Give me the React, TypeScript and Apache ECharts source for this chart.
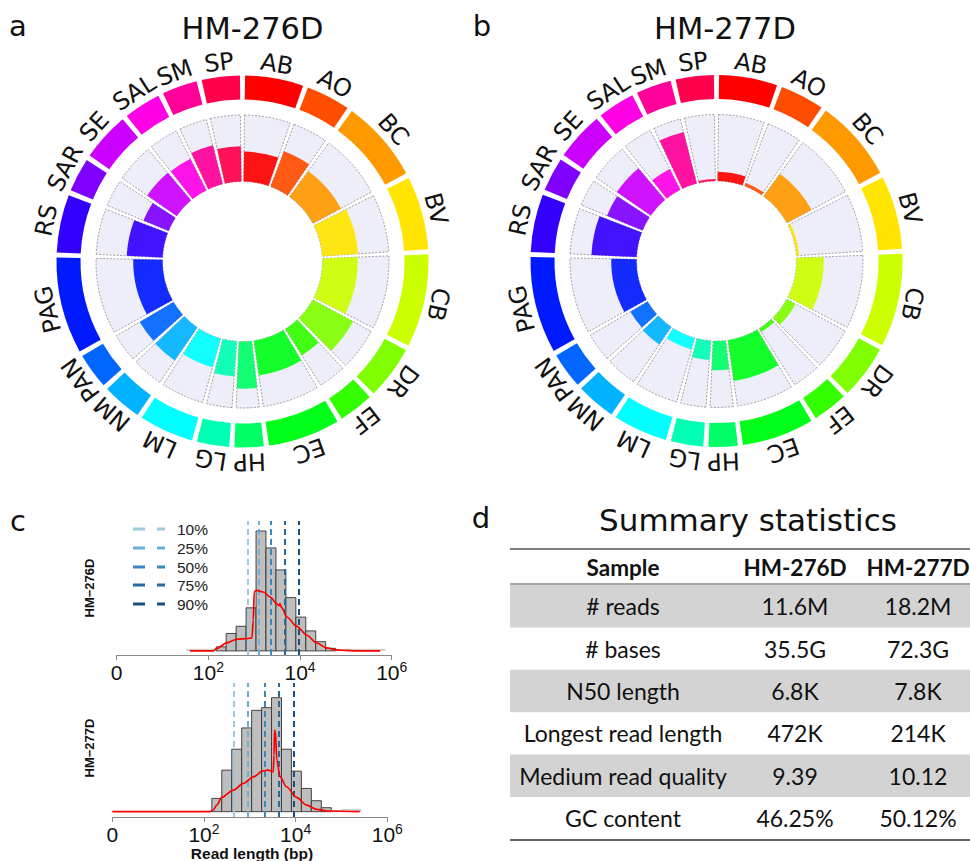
import React, { useEffect, useRef } from "react";
import * as echarts from "echarts";

// ---------------- Panels a / b : circular coverage tracks ----------------
const SITES = ["AB", "AO", "BC", "BV", "CB", "DR", "EF", "EC", "HP", "LG", "LM", "NM", "PAN", "PAG", "RS", "SAR", "SE", "SAL", "SM", "SP"];
// segment boundaries, degrees clockwise from 12 o'clock
const SITE_BOUNDS = [0, 19.8, 35.2, 62.5, 87, 117.7, 136, 148.5, 172.6, 183.3, 195, 213.6, 227.5, 240.3, 272, 291.7, 303.9, 320.7, 333.9, 346.5, 360];
const SITE_COLORS = ["#FF0000", "#FF4D00", "#FF9900", "#FFE500", "#CCFF00", "#80FF00", "#33FF00", "#00FF19", "#00FF66", "#00FFB2", "#00FFFF", "#00B3FF", "#0066FF", "#001AFF", "#3300FF", "#7F00FF", "#CC00FF", "#FF00E6", "#FF0099", "#FF004D"];
// relative fill of the inner track per site (0..1)
const COVER_276D = [0.45, 0.57, 0.48, 0.54, 0.53, 0.69, 0.47, 0.53, 0.71, 0.53, 0.45, 0.6, 0.59, 0.44, 0.54, 0.41, 0.54, 0.53, 0.6, 0.53];
const COVER_277D = [0.14, 0.05, 0.42, 0.04, 0.41, 0.15, 0.06, 0.62, 0.44, 0.29, 0.18, 0.32, 0.3, 0.38, 0.68, 0.58, 0.62, 0.35, 0.8, 0.03];
const SAMPLES = ["HM-276D", "HM-277D"];

// ---------------- Panel c : read length histograms ----------------
// bin edges in natural log of read length
const BIN_EDGES_LN = [3.5, 4, 4.5, 5, 5.5, 6, 6.5, 7, 7.5, 8, 8.5, 9, 9.5, 10, 10.5, 11, 11.5, 12, 12.5, 13, 13.5];
const HIST_276D = [0.4, 0.4, 0.4, 0.8, 3.4, 4.8, 8.4, 23.4, 20.1, 15.8, 10.4, 6.6, 3.9, 1.8, 0.5, 0.13, 0.4, 0.4, 0.4, 0.4];
const HIST_277D = [0, 0, 0.15, 2.0, 6.25, 9.4, 12.6, 15.25, 15.65, 17.15, 9.4, 6.1, 3.5, 1.65, 0.6, 0.25, 0.4, 0.4, 0, 0];
// density curves: x = log10(read length), y = same units as histogram
const DENS_276D_X = [1.6, 2.11, 2.18, 2.4, 2.62, 2.84, 2.95, 2.98, 3.0, 3.05, 3.2, 3.35, 3.49, 3.54, 3.56, 3.6, 3.71, 3.93, 4.15, 4.36, 4.58, 4.8, 5.16, 5.75];
const DENS_276D_Y = [0, 0, 0.45, 1.56, 2.27, 2.4, 2.53, 5.97, 11.49, 11.81, 11.49, 10.51, 9.21, 8.83, 9.21, 8.44, 6.62, 4.8, 3.05, 1.56, 0.58, 0.19, 0, 0];
const DENS_277D_X = [0, 2.13, 2.2, 2.28, 2.39, 2.64, 2.86, 3.08, 3.29, 3.4, 3.51, 3.53, 3.54, 3.56, 3.59, 3.66, 3.8, 4.02, 4.24, 4.46, 4.68, 5.4];
const DENS_277D_Y = [0, 0, 0.25, 1.0, 2.15, 3.25, 4.25, 5.25, 6.15, 6.25, 6.0, 8.5, 12.25, 12.0, 7.75, 5.25, 3.75, 2.15, 1.0, 0.35, 0.1, 0];
const PCT_LABELS = ["10%", "25%", "50%", "75%", "90%"];
const PCT_276D = [2.858, 3.105, 3.36, 3.658, 3.985];
const PCT_277D = [2.64, 2.953, 3.316, 3.636, 3.964];
const PCT_COLORS = ["#9ECAE1", "#6BAED6", "#3A87BF", "#236AA0", "#1B4F7B"];

// ---------------- Panel d : summary table ----------------
const TABLE_HEADER = ["Sample", "HM-276D", "HM-277D"];
const TABLE_METRICS = ["# reads", "# bases", "N50 length", "Longest read length", "Medium read quality", "GC content"];
const TABLE_276D = ["11.6M", "35.5G", "6.8K", "472K", "9.39", "46.25%"];
const TABLE_277D = ["18.2M", "72.3G", "7.8K", "214K", "10.12", "50.12%"];

const CIRCOS_FONT = "DejaVu Sans";
const PLOT_FONT = "Liberation Sans";
const TABLE_FONT = "Lato";
const GAP = 1.6;

function sectorShape(api: any, cs: any, v0: number, v1: number, a0: number, a1: number) {
  const pIn = api.coord([v0, a0]);
  const pOut = api.coord([v1, a0]);
  const pEnd = api.coord([v1, a1]);
  const r0 = Math.hypot(pIn[0] - cs.cx, pIn[1] - cs.cy);
  const r = Math.hypot(pOut[0] - cs.cx, pOut[1] - cs.cy);
  const sa = Math.atan2(pOut[1] - cs.cy, pOut[0] - cs.cx);
  let ea = Math.atan2(pEnd[1] - cs.cy, pEnd[0] - cs.cx);
  if (ea <= sa) ea += Math.PI * 2;
  return { cx: cs.cx, cy: cs.cy, r0, r, startAngle: sa, endAngle: ea, clockwise: true };
}

function buildOption() {
  const panels = [
    { cx: 242.5, cy: 261.5, cover: COVER_276D },
    { cx: 716.5, cy: 261, cover: COVER_277D },
  ];
  const polar: any[] = [];
  const angleAxis: any[] = [];
  const radiusAxis: any[] = [];
  const series: any[] = [];
  panels.forEach((p, k) => {
    polar.push({ center: [p.cx, p.cy], radius: [80, 146.5] });
    polar.push({ center: [p.cx, p.cy], radius: [162, 186] });
    for (let j = 0; j < 2; j++) {
      const idx = k * 2 + j;
      angleAxis.push({ polarIndex: idx, type: "value", min: 0, max: 360, startAngle: 90, clockwise: true, show: false, axisLine: { show: false }, axisTick: { show: false }, axisLabel: { show: false }, splitLine: { show: false } });
      radiusAxis.push({ polarIndex: idx, type: "value", min: 0, max: 1, show: false, axisLine: { show: false }, axisTick: { show: false }, axisLabel: { show: false }, splitLine: { show: false } });
    }
    series.push({
      type: "custom",
      coordinateSystem: "polar",
      polarIndex: k * 2,
      silent: true,
      data: SITES.map((s, i) => [SITE_BOUNDS[i], SITE_BOUNDS[i + 1], p.cover[i], i]),
      renderItem: (params: any, api: any) => {
        const cs = params.coordSys;
        const a0 = api.value(0) + GAP / 2;
        const a1 = api.value(1) - GAP / 2;
        const f = api.value(2);
        const i = api.value(3);
        return {
          type: "group",
          children: [
            { type: "sector", shape: sectorShape(api, cs, 0, 1, a0, a1), style: { fill: "#EEEEFA", stroke: "#7a7a7a", lineWidth: 0.7, lineDash: [2, 1.5] } },
            { type: "sector", shape: sectorShape(api, cs, 0, f, a0, a1), style: { fill: SITE_COLORS[i], opacity: 0.92 } },
          ],
        };
      },
    });
    series.push({
      type: "custom",
      coordinateSystem: "polar",
      polarIndex: k * 2 + 1,
      silent: true,
      data: SITES.map((s, i) => [SITE_BOUNDS[i], SITE_BOUNDS[i + 1], i]),
      renderItem: (params: any, api: any) => {
        const cs = params.coordSys;
        const a0 = api.value(0) + GAP / 2;
        const a1 = api.value(1) - GAP / 2;
        const i = api.value(2);
        const mid = (api.value(0) + api.value(1)) / 2;
        const lp = api.coord([1.6, mid]);
        const phi = Math.atan2(lp[1] - cs.cy, lp[0] - cs.cx);
        return {
          type: "group",
          children: [
            { type: "sector", shape: sectorShape(api, cs, 0, 1, a0, a1), style: { fill: SITE_COLORS[i] } },
            {
              type: "text",
              x: lp[0],
              y: lp[1],
              rotation: -(phi + Math.PI / 2),
              style: { text: SITES[i], fontSize: 24, fontFamily: CIRCOS_FONT, fill: "#111", align: "center", verticalAlign: "middle" },
            },
          ],
        };
      },
    });
  });

  // ---- Panel c ----
  const grids = [
    { left: 116.7, width: 275, top: 521, height: 134 },
    { left: 112.3, width: 275, top: 683, height: 134 },
  ];
  const yRanges = [
    { min: -0.8, max: 25.35 },
    { min: -0.8, max: 19.36 },
  ];
  const hists = [HIST_276D, HIST_277D];
  const densX = [DENS_276D_X, DENS_277D_X];
  const densY = [DENS_276D_Y, DENS_277D_Y];
  const pcts = [PCT_276D, PCT_277D];
  const xAxis: any[] = [];
  const yAxis: any[] = [];
  grids.forEach((g, k) => {
    xAxis.push({
      gridIndex: k,
      type: "value",
      min: 0,
      max: 6,
      interval: 2,
      axisLine: { onZero: false, lineStyle: { color: "#8a8a8a", width: 1.2 } },
      axisTick: { show: true, length: 5, lineStyle: { color: "#8a8a8a" } },
      splitLine: { show: false },
      axisLabel: {
        margin: 5,
        color: "#111",
        fontFamily: PLOT_FONT,
        formatter: (v: number) => (v === 0 ? "{a|0}" : "{a|10}{b|" + v + "}"),
        rich: {
          a: { fontSize: 21, lineHeight: 24, fontFamily: PLOT_FONT, color: "#111" },
          b: { fontSize: 14, lineHeight: 14, verticalAlign: "top", fontFamily: PLOT_FONT, color: "#111" },
        },
      },
    });
    yAxis.push({ gridIndex: k, type: "value", min: yRanges[k].min, max: yRanges[k].max, show: false, splitLine: { show: false } });
    series.push({
      type: "custom",
      xAxisIndex: k,
      yAxisIndex: k,
      silent: true,
      z: 2,
      data: hists[k].map((h, i) => [BIN_EDGES_LN[i] / Math.LN10, BIN_EDGES_LN[i + 1] / Math.LN10, h]),
      renderItem: (params: any, api: any) => {
        const h = api.value(2);
        if (!(h > 0)) return null;
        const pA = api.coord([api.value(0), h]);
        const pB = api.coord([api.value(1), 0]);
        const tiny = h < 0.45;
        return {
          type: "rect",
          shape: { x: pA[0], y: pA[1], width: pB[0] - pA[0], height: pB[1] - pA[1] },
          style: tiny ? { fill: "#CDCDCD" } : { fill: "#BEBEBE", stroke: "#333", lineWidth: 0.9 },
        };
      },
    });
    series.push({
      type: "line",
      xAxisIndex: k,
      yAxisIndex: k,
      silent: true,
      z: 4,
      smooth: 0.3,
      smoothMonotone: "x",
      showSymbol: false,
      symbol: "none",
      lineStyle: { color: "#FF0000", width: 1.7 },
      data: densX[k].map((x, i) => [x, densY[k][i]]),
      markLine: {
        silent: true,
        symbol: ["none", "none"],
        label: { show: false },
        z: 3,
        data: pcts[k].map((v, i) => ({ xAxis: v, lineStyle: { color: PCT_COLORS[i], width: 2, type: [6, 4] } })),
      },
    });
  });

  // ---- graphic: letters, titles, legend, table ----
  const els: any[] = [];
  const txt = (text: string, x: number, y: number, o: any = {}) => ({
    type: "text",
    x,
    y,
    rotation: o.rotation || 0,
    style: {
      text,
      fontSize: o.size || 16,
      fontFamily: o.font || CIRCOS_FONT,
      fontWeight: o.weight || "normal",
      fill: o.color || "#111",
      align: o.align || "center",
      verticalAlign: "middle",
    },
  });
  els.push(txt("a", 18, 26, { size: 29 }));
  els.push(txt("b", 482, 26, { size: 29 }));
  els.push(txt("c", 18, 521, { size: 29 }));
  els.push(txt("d", 481, 518, { size: 29 }));
  els.push(txt(SAMPLES[0], 252.5, 28, { size: 30.5 }));
  els.push(txt(SAMPLES[1], 725, 28, { size: 30.5 }));

  // panel c legend and labels
  const legendY = [529, 548, 567, 585, 604];
  PCT_LABELS.forEach((l, i) => {
    els.push({ type: "line", shape: { x1: 133, y1: legendY[i], x2: 165, y2: legendY[i] }, style: { stroke: PCT_COLORS[i], lineWidth: 3, lineDash: [12, 12] } });
    els.push(txt(l, 177, legendY[i], { size: 15.5, font: PLOT_FONT, align: "left", color: "#222" }));
  });
  els.push(txt("HM\u2212276D", 89, 588, { size: 13, font: PLOT_FONT, weight: "bold", rotation: Math.PI / 2 }));
  els.push(txt("HM\u2212277D", 89, 748, { size: 13, font: PLOT_FONT, weight: "bold", rotation: Math.PI / 2 }));
  els.push(txt("Read length (bp)", 252, 853, { size: 15.5, font: PLOT_FONT, weight: "bold" }));

  // panel d table
  els.push(txt("Summary statistics", 748, 520, { size: 31 }));
  const tLeft = 510;
  const tRight = 970;
  const colX = [623, 795, 918];
  const rowH = 42.4;
  const rowTop = 585;
  TABLE_METRICS.forEach((m, i) => {
    if (i % 2 === 0) {
      els.push({ type: "rect", shape: { x: tLeft, y: rowTop + rowH * i, width: tRight - tLeft, height: rowH }, style: { fill: "#D3D3D3" } });
    }
  });
  els.push({ type: "line", shape: { x1: tLeft, y1: 549, x2: tRight, y2: 549 }, style: { stroke: "#555", lineWidth: 1.5 } });
  els.push({ type: "line", shape: { x1: tLeft, y1: 584, x2: tRight, y2: 584 }, style: { stroke: "#8a8a8a", lineWidth: 1.5 } });
  els.push({ type: "line", shape: { x1: tLeft, y1: 840, x2: tRight, y2: 840 }, style: { stroke: "#333", lineWidth: 1.5 } });
  TABLE_HEADER.forEach((h, j) => {
    els.push(txt(h, colX[j], 567, { size: 22.5, font: TABLE_FONT, weight: "bold" }));
  });
  TABLE_METRICS.forEach((m, i) => {
    const y = rowTop + rowH * i + rowH / 2;
    els.push(txt(m, colX[0], y, { size: 23, font: TABLE_FONT }));
    els.push(txt(TABLE_276D[i], colX[1], y, { size: 23, font: TABLE_FONT }));
    els.push(txt(TABLE_277D[i], colX[2], y, { size: 23, font: TABLE_FONT }));
  });

  return {
    animation: false,
    backgroundColor: "#ffffff",
    polar,
    angleAxis,
    radiusAxis,
    grid: grids.map((g) => ({ ...g, containLabel: false })),
    xAxis,
    yAxis,
    series,
    graphic: { elements: els },
  };
}

export default function App() {
  const ref = useRef<HTMLDivElement>(null);
  useEffect(() => {
    if (!ref.current) return;
    const chart = echarts.init(ref.current, null, { renderer: "svg" });
    chart.setOption(buildOption() as any);
    return () => chart.dispose();
  }, []);
  return <div ref={ref} style={{ position: "absolute", left: 0, top: 0, width: 970, height: 861 }} />;
}
